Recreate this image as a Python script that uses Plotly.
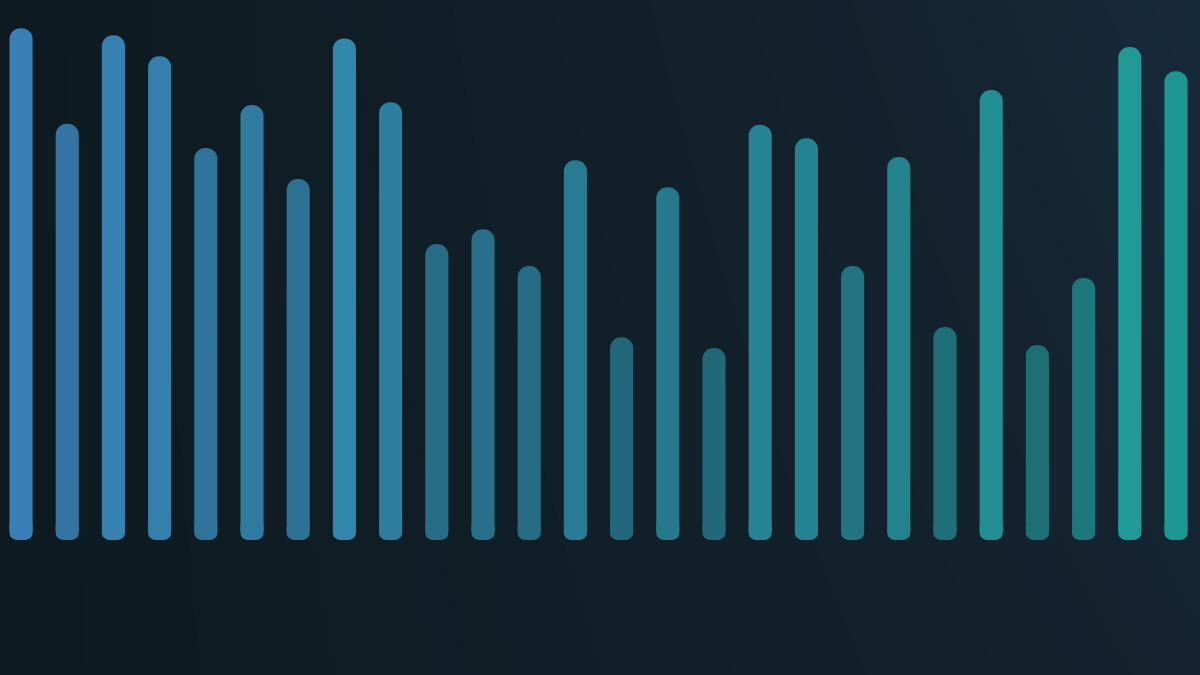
import numpy as np
import plotly.graph_objects as go

# bar heights, left to right (share of the tallest bar)
heights = [100, 81.3, 98.6, 94.5, 76.6, 85.0, 70.5, 98.0, 85.5, 57.8,
           60.7, 53.5, 74.2, 39.6, 68.9, 37.5, 81.1, 78.5, 53.5, 74.8,
           41.6, 87.9, 38.1, 51.2, 96.3, 91.6]
positions = list(range(len(heights)))

color_left = (0x3a, 0x80, 0xb6)
color_right = (0x1f, 0x9d, 0x98)
bg_left = (0x0e, 0x1a, 0x20)
bg_right = (0x15, 0x26, 0x36)


def mix(a, b, t):
    return tuple(a[k] + (b[k] - a[k]) * t for k in range(3))


def bar_color(i, h):
    # hue drifts blue -> teal, shorter bars fade into the background
    t = i / (len(heights) - 1)
    full = mix(color_left, color_right, t)
    bg = mix(bg_left, bg_right, t)
    alpha = 0.52 + 0.48 * (h / 100) ** 1.5
    c = mix(bg, full, alpha)
    return 'rgb(%d,%d,%d)' % tuple(round(v) for v in c)


colors = [bar_color(i, h) for i, h in enumerate(heights)]

x_range = [-0.455, 25.52]
y_range = [-26.4, 105.5]

# soft background glow, brightest top right
gx = np.linspace(0, 1, 40)
gy = np.linspace(0, 1, 30)
z = [[x * (0.75 + 0.25 * y) for x in gx] for y in gy]

fig = go.Figure()
fig.add_trace(go.Heatmap(
    x=np.linspace(x_range[0], x_range[1], 40),
    y=np.linspace(y_range[0], y_range[1], 30),
    z=z, zsmooth='best', showscale=False, hoverinfo='skip',
    zmin=0, zmax=1,
    colorscale=[[0, '#0d1a20'], [0.75, '#14232f'], [1, '#172a3d']],
))

# main bars, rounded at both ends
fig.add_trace(go.Bar(
    x=positions, y=heights, base=0,
    width=0.5, marker=dict(color=colors, cornerradius=12, line_width=0),
))
# short overlay at the foot to make the bottom corners tighter
fig.add_trace(go.Bar(
    x=positions, y=[4] * len(heights), base=0,
    width=0.5, marker=dict(color=colors, cornerradius=7, line_width=0),
))

fig.update_layout(
    width=1200, height=675,
    margin=dict(l=0, r=0, t=0, b=0),
    barmode='overlay', showlegend=False,
    paper_bgcolor='#0e1a20', plot_bgcolor='#0e1a20',
    xaxis=dict(range=x_range, visible=False, fixedrange=True),
    yaxis=dict(range=y_range, visible=False, fixedrange=True),
)

fig.write_html("out.html", config={'displayModeBar': False},
               post_script="document.body.style.margin='0';"
                           "document.body.style.background='#0e1a20';")
